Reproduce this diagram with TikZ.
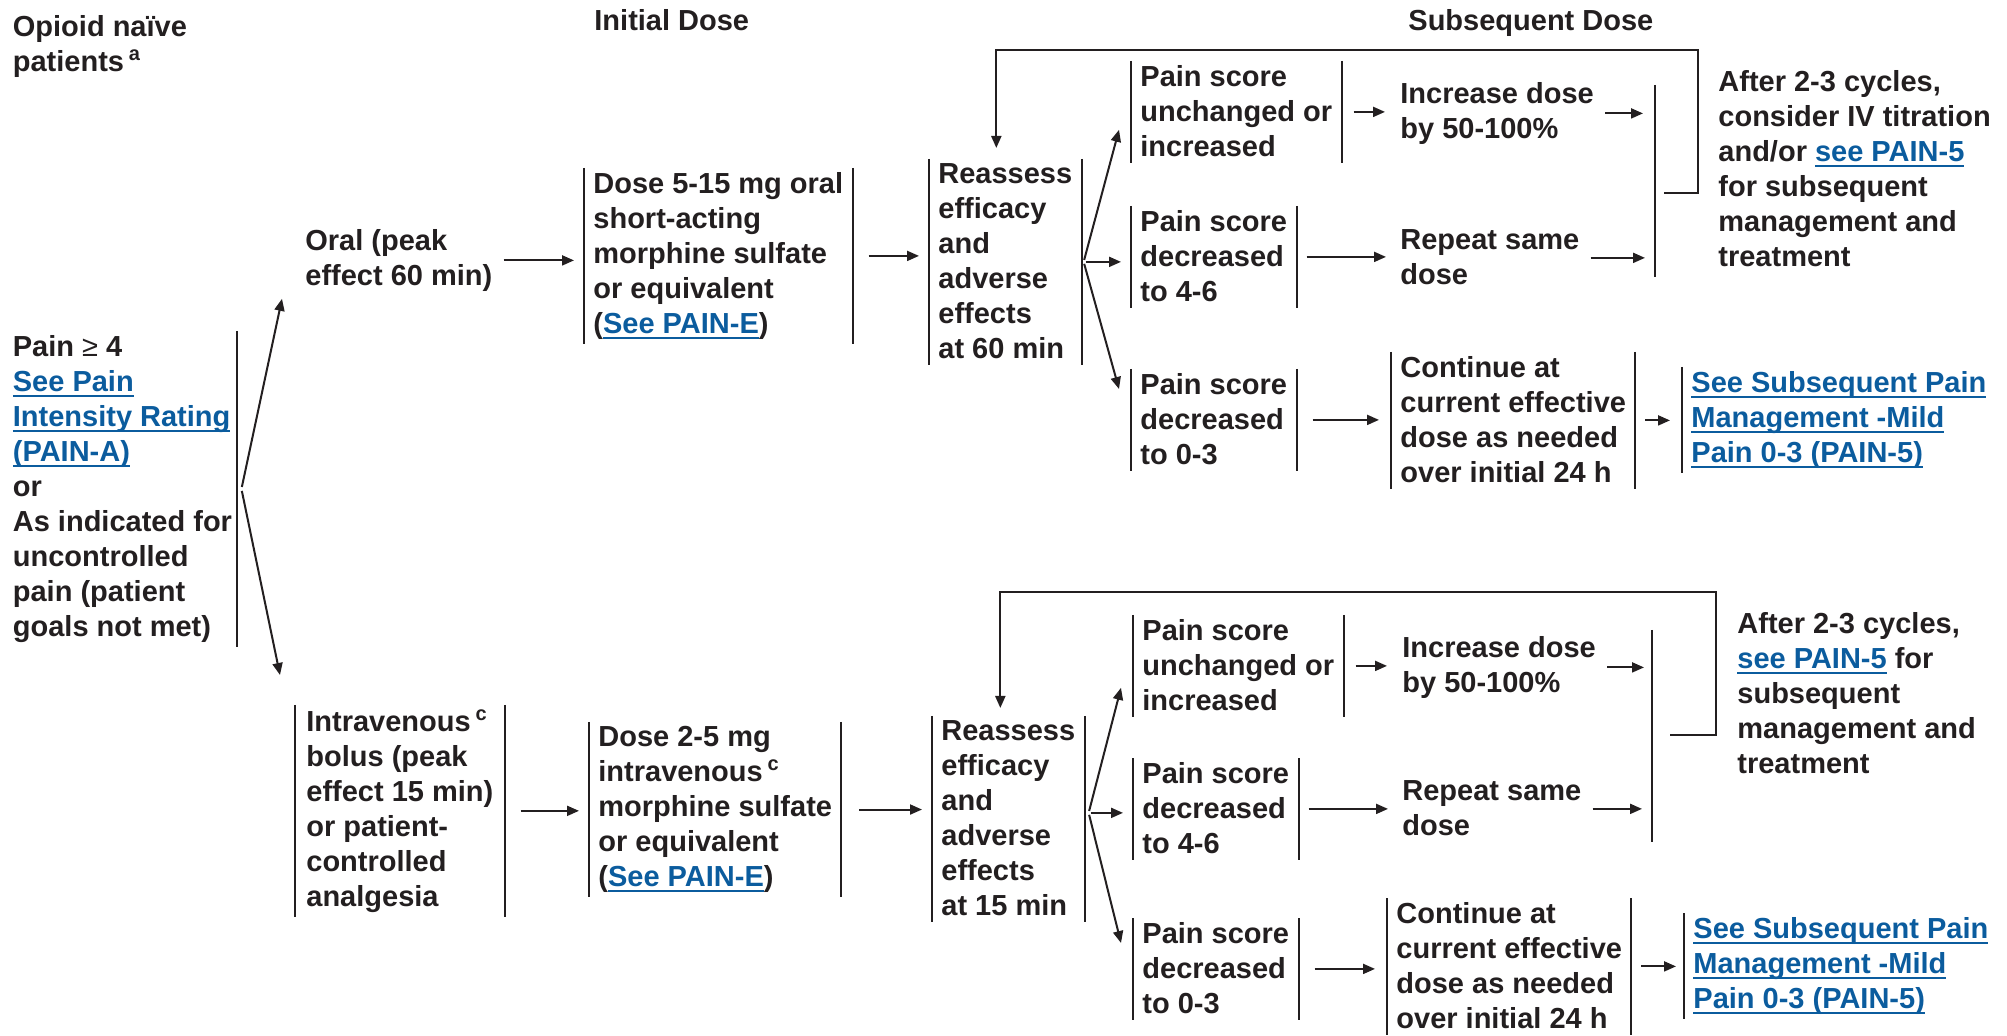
\documentclass[tikz,border=0pt]{standalone}
\usepackage{fontspec}
\setmainfont{Liberation Sans}
\usetikzlibrary{arrows.meta,calc}
\definecolor{inkcol}{HTML}{231F20}
\definecolor{linkcol}{HTML}{0B5C9E}
\newcommand{\lnk}[1]{\textcolor{linkcol}{\setbox0\hbox{#1}\rlap{\rule[-2.6pt]{\wd0}{1pt}}\box0}}
\newcommand{\fnref}[1]{\,\raisebox{5.5pt}{\fontsize{10}{10}\selectfont #1}}
\tikzset{
  brk/.style={align=left, anchor=north west, inner xsep=4.5pt, inner ysep=2pt,
    text=inkcol, execute at end node=\rule[-1pt]{0pt}{1pt}}}

\begin{document}
\begin{tikzpicture}[x=0.5pt, y=-0.5pt,
    font=\fontsize{14.5}{17.5}\selectfont\bfseries,
    bar/.style={draw=inkcol, line width=1pt},
    arr/.style={draw=inkcol, line width=1pt, -{Triangle[length=6pt,width=5pt]},
      shorten <=1pt, shorten >=5pt}]
  \useasboundingbox (0,0) rectangle (2007,1036);

  % headings
  \node[brk] (opioid) at (3.5,11) {Opioid naïve\\patients\fnref{a}};
  \node[brk] (initial) at (585,5) {Initial Dose};
  \node[brk] (subseq) at (1399,5) {Subsequent Dose};

  % entry
  \node[brk, inner xsep=2.5pt] (pain) at (7.5,331)
    {Pain {\mdseries ≥} 4\\\lnk{See Pain}\\\lnk{Intensity Rating}\\\lnk{(PAIN-A)}\\or\\
     As indicated for\\uncontrolled\\pain (patient\\goals not met)};
  \node[brk] (oral) at (296,225) {Oral (peak\\effect 60 min)};
  \node[brk, inner xsep=5.5pt] (iv) at (295,705)
    {Intravenous\fnref{c}\\bolus (peak\\effect 15 min)\\or patient-\\controlled\\analgesia};

  % initial dose
  \node[brk] (dose1) at (584,168)
    {Dose 5-15 mg oral\\short-acting\\morphine sulfate\\or equivalent\\(\lnk{See PAIN-E})};
  \node[brk] (dose2) at (589,722)
    {Dose 2-5 mg\\intravenous\fnref{c}\\morphine sulfate\\or equivalent\\(\lnk{See PAIN-E})};
  \node[brk] (reassess1) at (929,159) {Reassess\\efficacy\\and\\adverse\\effects\\at 60 min};
  \node[brk] (reassess2) at (932,716) {Reassess\\efficacy\\and\\adverse\\effects\\at 15 min};

  % subsequent dose, oral
  \node[brk] (ps1a) at (1131,61) {Pain score\\unchanged or\\increased};
  \node[brk] (ps1b) at (1131,206) {Pain score\\decreased\\to 4-6};
  \node[brk] (ps1c) at (1131,369) {Pain score\\decreased\\to 0-3};
  \node[brk] (inc1) at (1391,78) {Increase dose\\by 50-100\%};
  \node[brk] (rep1) at (1391,225) {Repeat same\\dose};
  \node[brk] (cont1) at (1391,352)
    {Continue at\\current effective\\dose as needed\\over initial 24 h};
  \node[brk] (see1) at (1682,367)
    {\lnk{See Subsequent Pain}\\\lnk{Management -Mild}\\\lnk{Pain 0-3 (PAIN-5)}};
  \node[brk] (after1) at (1709,66)
    {After 2-3 cycles,\\consider IV titration\\and/or \lnk{see PAIN-5}\\for subsequent\\management and\\treatment};

  % subsequent dose, intravenous
  \node[brk] (ps2a) at (1133,615) {Pain score\\unchanged or\\increased};
  \node[brk] (ps2b) at (1133,758) {Pain score\\decreased\\to 4-6};
  \node[brk] (ps2c) at (1133,918) {Pain score\\decreased\\to 0-3};
  \node[brk] (inc2) at (1393,632) {Increase dose\\by 50-100\%};
  \node[brk] (rep2) at (1393,776) {Repeat same\\dose};
  \node[brk] (cont2) at (1387,898)
    {Continue at\\current effective\\dose as needed\\over initial 24 h};
  \node[brk] (see2) at (1684,913)
    {\lnk{See Subsequent Pain}\\\lnk{Management -Mild}\\\lnk{Pain 0-3 (PAIN-5)}};
  \node[brk] (after2) at (1728,608)
    {After 2-3 cycles,\\\lnk{see PAIN-5} for\\subsequent\\management and\\treatment};

  % bracket bars
  \foreach \n in {iv,dose1,dose2,reassess1,reassess2,ps1a,ps1b,ps1c,ps2a,ps2b,ps2c,cont1,cont2}
    \draw[bar] (\n.north west) -- (\n.south west) (\n.north east) -- (\n.south east);
  \foreach \n in {see1,see2}
    \draw[bar] (\n.north west) -- (\n.south west);
  \draw[bar] (pain.north east) -- (pain.south east);

  \coordinate (col1t) at (1655,85);
  \coordinate (col1b) at (1655,277);
  \coordinate (col2t) at (1652,630);
  \coordinate (col2b) at (1652,842);
  \draw[bar] (col1t) -- (col1b);
  \draw[bar] (col2t) -- (col2b);

  % split from entry
  \coordinate (painfan) at ([xshift=2pt]pain.east);
  \draw[arr, shorten >=0pt] (painfan) -- ($(oral.south west)+(-14,3)$);
  \draw[arr, shorten >=0pt] (painfan) -- ($(iv.north west)+(-15,-30)$);

  \draw[arr] (oral.east) -- (oral.east -| dose1.west);
  \draw[arr, shorten <=8pt] (iv.east) -- (iv.east -| dose2.west);
  \draw[arr, shorten <=8pt] (dose1.east) -- (dose1.east -| reassess1.west);
  \draw[arr, shorten <=9pt] (dose2.east) -- (dose2.east -| reassess2.west);

  % fans
  \coordinate (fan1) at ([xshift=1pt]reassess1.east);
  \draw[arr, shorten >=0pt] (fan1) -- ($(ps1a.south west)+(-12,-33)$);
  \draw[arr] (fan1) -- (fan1 -| ps1b.west);
  \draw[arr, shorten >=0pt] (fan1) -- ($(ps1c.north west)+(-12,20)$);
  \coordinate (fan2) at ([xshift=2pt,yshift=3pt]reassess2.east);
  \draw[arr, shorten >=0pt] (fan2) -- ($(ps2a.south west)+(-12,-29)$);
  \draw[arr] (fan2) -- (fan2 -| ps2b.west);
  \draw[arr, shorten >=0pt] (fan2) -- ($(ps2c.north west)+(-12,25)$);

  % to the outcomes
  \draw[arr, shorten <=6pt, shorten >=3pt] (ps1a.east) -- (ps1a.east -| inc1.west);
  \draw[arr, shorten <=5pt, shorten >=2.5pt] (ps1b.east) -- (ps1b.east -| rep1.west);
  \draw[arr, shorten <=8pt, shorten >=6pt] (ps1c.east) -- (ps1c.east -| cont1.west);
  \draw[arr, shorten <=5pt, shorten >=6pt] (cont1.east) -- (cont1.east -| see1.west);
  \draw[arr, shorten >=6pt] (inc1.east) -- (inc1.east -| col1t);
  \draw[arr] (rep1.east) -- (rep1.east -| col1t);
  \draw[arr, shorten <=6pt, shorten >=3pt] (ps2a.east) -- (ps2a.east -| inc2.west);
  \draw[arr, shorten <=5pt, shorten >=2.5pt] (ps2b.east) -- (ps2b.east -| rep2.west);
  \draw[arr, shorten <=8pt, shorten >=6pt] (ps2c.east) -- (ps2c.east -| cont2.west);
  \draw[arr, shorten <=5pt, shorten >=4pt] (cont2.east) -- (cont2.east -| see2.west);
  \draw[arr, shorten >=4pt] (inc2.east) -- (inc2.east -| col2t);
  \draw[arr] (rep2.east) -- (rep2.east -| col2t);

  % repeat loops
  \coordinate (stub1) at (1664,193);
  \coordinate (loop1) at (1698,50);
  \draw[arr, shorten <=0pt, shorten >=5.5pt] (stub1) -| (loop1) -| ([xshift=-4.5pt]reassess1.north);
  \coordinate (stub2) at (1670,735);
  \coordinate (loop2) at (1716,592);
  \draw[arr, shorten <=0pt, shorten >=4pt] (stub2) -| (loop2) -| ([xshift=-4pt]reassess2.north);
\end{tikzpicture}
\end{document}
